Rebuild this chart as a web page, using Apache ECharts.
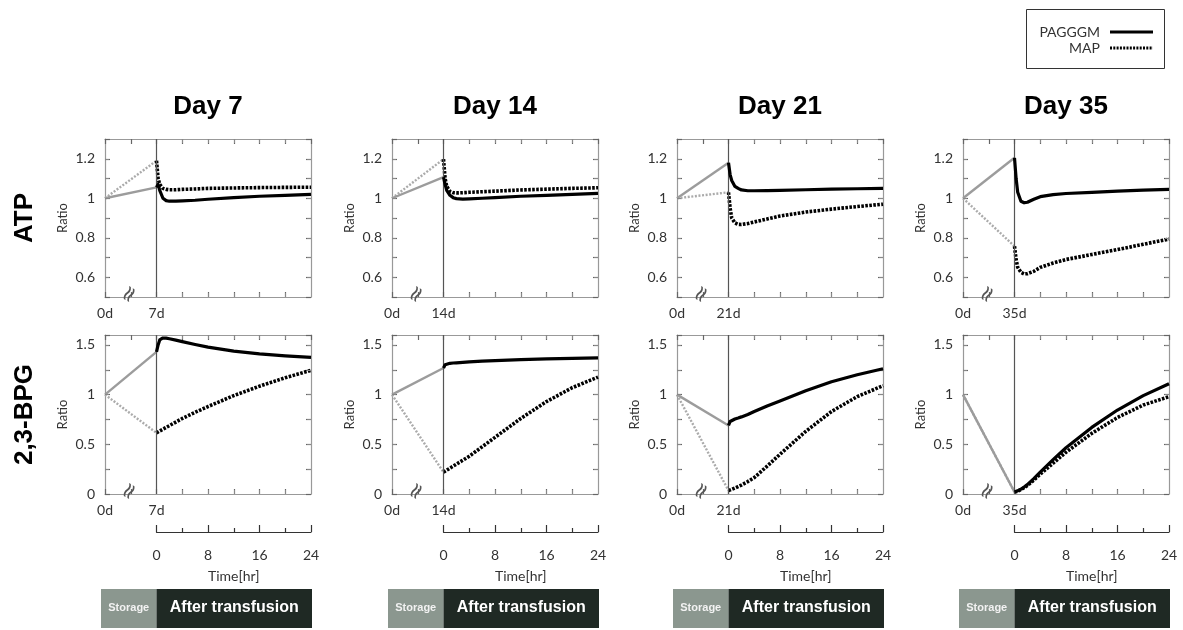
<!DOCTYPE html>
<html>
<head>
<meta charset="utf-8">
<script src="https://cdn.jsdelivr.net/npm/echarts@6/dist/echarts.min.js"></script>
<style>
html,body{margin:0;padding:0;background:#fff;}
#chart{width:1183px;height:630px;}
</style>
</head>
<body>
<div id="chart"></div>
<script>
// ---------------- data ----------------
const days = [7, 14, 21, 35];
const hours = [0, 0.25, 0.5, 1, 1.5, 2, 3, 4, 6, 8, 12, 16, 20, 24];
const storageStart = -8; // storage period drawn on the left of time 0 (0d)

// ATP: value at end of storage (0d value = 1)
const atpStoragePAGGGM = [1.055, 1.107, 1.18, 1.205];
const atpStorageMAP    = [1.19, 1.198, 1.03, 0.757];
// ATP after transfusion (per day, sampled at hours)
const atpPAGGGM_d7  = [1.055, 1.07, 1.04, 1.0, 0.988, 0.985, 0.985, 0.987, 0.99, 0.995, 1.003, 1.01, 1.015, 1.02];
const atpMAP_d7     = [1.19, 1.1, 1.07, 1.05, 1.045, 1.043, 1.043, 1.045, 1.047, 1.05, 1.052, 1.054, 1.055, 1.056];
const atpPAGGGM_d14 = [1.107, 1.07, 1.04, 1.015, 1.003, 0.998, 0.996, 0.997, 1.0, 1.003, 1.01, 1.015, 1.02, 1.025];
const atpMAP_d14    = [1.198, 1.1, 1.06, 1.035, 1.028, 1.027, 1.028, 1.03, 1.033, 1.036, 1.042, 1.046, 1.05, 1.053];
const atpPAGGGM_d21 = [1.18, 1.12, 1.09, 1.06, 1.05, 1.042, 1.038, 1.038, 1.039, 1.04, 1.043, 1.046, 1.048, 1.05];
const atpMAP_d21    = [1.03, 0.95, 0.9, 0.875, 0.868, 0.867, 0.872, 0.88, 0.895, 0.91, 0.93, 0.945, 0.958, 0.97];
const atpPAGGGM_d35 = [1.205, 1.1, 1.03, 0.985, 0.977, 0.98, 0.995, 1.008, 1.018, 1.024, 1.03, 1.036, 1.041, 1.045];
const atpMAP_d35    = [0.757, 0.69, 0.65, 0.625, 0.617, 0.618, 0.63, 0.65, 0.672, 0.69, 0.715, 0.74, 0.767, 0.793];

// 2,3-BPG
const bpgStoragePAGGGM = [1.43, 1.268, 0.69, 0.02];
const bpgStorageMAP    = [0.615, 0.22, 0.035, 0.02];
const bpgPAGGGM_d7  = [1.43, 1.5, 1.55, 1.57, 1.568, 1.562, 1.548, 1.533, 1.505, 1.478, 1.437, 1.41, 1.39, 1.375];
const bpgMAP_d7     = [0.615, 0.625, 0.634, 0.652, 0.67, 0.688, 0.724, 0.76, 0.822, 0.88, 0.99, 1.085, 1.17, 1.245];
const bpgPAGGGM_d14 = [1.268, 1.3, 1.31, 1.315, 1.318, 1.32, 1.325, 1.33, 1.337, 1.343, 1.352, 1.36, 1.365, 1.37];
const bpgMAP_d14    = [0.22, 0.23, 0.24, 0.26, 0.28, 0.3, 0.34, 0.38, 0.475, 0.57, 0.76, 0.93, 1.07, 1.176];
const bpgPAGGGM_d21 = [0.69, 0.73, 0.745, 0.755, 0.765, 0.776, 0.8, 0.83, 0.885, 0.935, 1.04, 1.13, 1.2, 1.26];
const bpgMAP_d21    = [0.035, 0.04, 0.047, 0.06, 0.075, 0.09, 0.125, 0.165, 0.28, 0.4, 0.63, 0.83, 0.98, 1.09];
const bpgPAGGGM_d35 = [0.02, 0.025, 0.032, 0.05, 0.07, 0.095, 0.155, 0.22, 0.345, 0.465, 0.67, 0.845, 0.99, 1.11];
const bpgMAP_d35    = [0.02, 0.022, 0.028, 0.045, 0.063, 0.085, 0.14, 0.2, 0.31, 0.42, 0.61, 0.77, 0.895, 0.98];

const atpAfterPAGGGM = [atpPAGGGM_d7, atpPAGGGM_d14, atpPAGGGM_d21, atpPAGGGM_d35];
const atpAfterMAP    = [atpMAP_d7, atpMAP_d14, atpMAP_d21, atpMAP_d35];
const bpgAfterPAGGGM = [bpgPAGGGM_d7, bpgPAGGGM_d14, bpgPAGGGM_d21, bpgPAGGGM_d35];
const bpgAfterMAP    = [bpgMAP_d7, bpgMAP_d14, bpgMAP_d21, bpgMAP_d35];

// tick values
const atpTickLabels = [0.6, 0.8, 1, 1.2];
const atpTickMarks  = [0.6, 0.7, 0.8, 0.9, 1, 1.1, 1.2];
const bpgTickLabels = [0, 0.5, 1, 1.5];
const bpgTickMarks  = [0.25, 0.5, 0.75, 1, 1.25, 1.5];
const xTickMarks    = [4, 8, 12, 16, 20];
const hrTicks = [0, 8, 16, 24];
const seriesNames = ['PAGGGM', 'MAP'];

// ---------------- layout ----------------
const colLeft = [105, 392, 677, 963];
const W = 206;
const rowTop = [139, 335];
const rowH = [158, 159];
const TICK_PX = 4;
const FONT = 'Lato, "Open Sans", sans-serif';
const BOLD = '"Liberation Sans", Arial, sans-serif';
const frameColor = '#999999';

const grid = [], xAxis = [], yAxis = [], series = [], graphic = [];

function zip(xs, ys){ return xs.map((x,i)=>[x, ys[i]]); }

function frameAxisLine(){ return {show: true, onZero: false, lineStyle: {color: frameColor, width: 1.2}}; }
function frameTick(){ return {show: true, inside: true, length: 5, lineStyle: {color: '#666', width: 1.2}}; }

function addPanel(c, r, yMin, yMax, yInt, tickLabels, tickMarks, storeP, storeM, afterP, afterM){
  const gi = grid.length;
  grid.push({left: colLeft[c], top: rowTop[r], width: W, height: rowH[r], show: false});
  const xb = xAxis.length;
  const day = days[c];
  xAxis.push({
    type: 'value', gridIndex: gi, min: storageStart, max: 24, interval: 4, position: 'bottom',
    axisLine: frameAxisLine(), axisTick: frameTick(), splitLine: {show: false},
    axisLabel: {show: true, fontFamily: FONT, fontSize: 14, color: '#333', margin: 9,
      showMinLabel: true, showMaxLabel: false,
      formatter: v => (Math.abs(v - storageStart) < 1e-6 ? '0d' : (Math.abs(v) < 1e-6 ? day + 'd' : ''))}
  });
  xAxis.push({
    type: 'value', gridIndex: gi, min: storageStart, max: 24, interval: 4, position: 'top',
    axisLine: frameAxisLine(), axisTick: frameTick(), splitLine: {show: false},
    axisLabel: {show: false}
  });
  const yl = yAxis.length;
  const labelSet = tickLabels.map(v => Math.round(v * 100));
  yAxis.push({
    type: 'value', gridIndex: gi, min: yMin, max: yMax, interval: yInt, position: 'left',
    name: 'Ratio', nameLocation: 'middle', nameGap: 36, nameRotate: 90,
    nameTextStyle: {fontFamily: FONT, fontSize: 13, color: '#333'},
    axisLine: frameAxisLine(), axisTick: frameTick(), splitLine: {show: false},
    axisLabel: {fontFamily: FONT, fontSize: 14, color: '#333', margin: 10,
      formatter: v => labelSet.indexOf(Math.round(v * 100)) >= 0 ? String(+(+v).toFixed(2)) : ''}
  });
  yAxis.push({
    type: 'value', gridIndex: gi, min: yMin, max: yMax, interval: yInt, position: 'right',
    axisLine: frameAxisLine(), axisTick: frameTick(), splitLine: {show: false},
    axisLabel: {show: false}
  });
  // inward tick marks on the frame, placed through the axis scales
  const dy = (yMax - yMin) * TICK_PX / rowH[r];
  const dx = (24 - storageStart) * TICK_PX / W;
  const tickSegs = [];
  xTickMarks.forEach(x => {
    tickSegs.push([{coord: [x, yMin]}, {coord: [x, yMin + dy]}]);
    tickSegs.push([{coord: [x, yMax]}, {coord: [x, yMax - dy]}]);
  });
  tickMarks.forEach(y => {
    tickSegs.push([{coord: [storageStart, y]}, {coord: [storageStart + dx, y]}]);
    tickSegs.push([{coord: [24, y]}, {coord: [24 - dx, y]}]);
  });
  // storage lines (gray) on bottom/left axes
  series.push({
    name: seriesNames[0], type: 'line', xAxisIndex: xb, yAxisIndex: yl, symbol: 'none', silent: true,
    data: [[storageStart, 1], [0, storeP]], z: 3,
    lineStyle: {color: '#9c9c9c', width: 2.4},
    markLine: {silent: true, symbol: 'none', label: {show: false}, animation: false,
      lineStyle: {color: '#555', width: 1.2, type: 'solid'}, data: [{xAxis: 0}]}
  });
  series.push({
    name: seriesNames[1], type: 'line', xAxisIndex: xb, yAxisIndex: yl, symbol: 'none', silent: true,
    data: [[storageStart, 1], [0, storeM]], z: 2,
    lineStyle: {color: '#ababab', width: 2.4, type: [2, 1.6]},
    markLine: {silent: true, symbol: 'none', label: {show: false}, animation: false,
      lineStyle: {color: '#888', width: 1, type: 'solid'}, data: tickSegs},
    markPoint: {silent: true, symbol: 'rect', symbolSize: 1, itemStyle: {color: 'rgba(0,0,0,0)'},
      label: {show: true, position: 'inside', formatter: '\u2248', fontSize: 22, color: '#555', rotate: 60,
        fontFamily: 'DejaVu Sans'},
      data: [{coord: [-4.1, yMin + (yMax - yMin) * 0.015]}]}
  });
  // after transfusion (black) on top/right axes (same scales)
  series.push({
    name: seriesNames[0], type: 'line', xAxisIndex: xb + 1, yAxisIndex: yl + 1, symbol: 'none', silent: true,
    data: zip(hours, afterP), smooth: false, z: 5,
    lineStyle: {color: '#000', width: 3.2, join: 'round'}
  });
  series.push({
    name: seriesNames[1], type: 'line', xAxisIndex: xb + 1, yAxisIndex: yl + 1, symbol: 'none', silent: true,
    data: zip(hours, afterM), smooth: false, z: 4,
    lineStyle: {color: '#000', width: 3.6, type: [2.6, 1.4], cap: 'butt', join: 'round'}
  });
}

for (let c = 0; c < 4; c++) {
  addPanel(c, 0, 0.5, 1.3, 0.1, atpTickLabels, atpTickMarks, atpStoragePAGGGM[c], atpStorageMAP[c], atpAfterPAGGGM[c], atpAfterMAP[c]);
  addPanel(c, 1, 0, 1.6, 0.25, bpgTickLabels, bpgTickMarks, bpgStoragePAGGGM[c], bpgStorageMAP[c], bpgAfterPAGGGM[c], bpgAfterMAP[c]);
  // hour axis
  const gi = grid.length;
  const vx = colLeft[c] + W * (-storageStart) / (24 - storageStart);
  grid.push({left: vx, top: 500, width: colLeft[c] + W - vx, height: 32, show: false});
  xAxis.push({
    type: 'value', gridIndex: gi, min: 0, max: 24, interval: 8, position: 'bottom',
    axisLine: {show: true, onZero: false, lineStyle: {color: '#333', width: 1.2}},
    axisTick: {show: true, inside: true, length: 7, lineStyle: {color: '#333', width: 1.2}},
    minorTick: {show: true, splitNumber: 2, length: 4, lineStyle: {color: '#333', width: 1.2}},
    splitLine: {show: false},
    axisLabel: {fontFamily: FONT, fontSize: 14, color: '#333', margin: 16, showMaxLabel: true, showMinLabel: true,
      formatter: v => hrTicks.indexOf(v) >= 0 ? String(v) : ''},
    name: 'Time[hr]', nameLocation: 'middle', nameGap: 37,
    nameTextStyle: {fontFamily: FONT, fontSize: 14, color: '#333'}
  });
  yAxis.push({type: 'value', gridIndex: gi, min: 0, max: 1, show: false});

  // column title
  graphic.push({type: 'text', x: colLeft[c] + W / 2, y: 107,
    style: {text: 'Day ' + days[c], fontFamily: BOLD, fontWeight: 'bold',
      fontSize: 26, fill: '#000', align: 'center', verticalAlign: 'middle'}});
  // storage / after transfusion bars
  const bx0 = colLeft[c] - 4, bx2 = colLeft[c] + W + 1;
  graphic.push({type: 'rect', shape: {x: bx0, y: 589, width: vx - bx0, height: 39}, style: {fill: '#8b978f'}});
  graphic.push({type: 'rect', shape: {x: vx, y: 589, width: bx2 - vx, height: 39}, style: {fill: '#1f2924'}});
  graphic.push({type: 'text', x: (bx0 + vx) / 2, y: 608,
    style: {text: 'Storage', fontFamily: BOLD, fontWeight: 'bold', fontSize: 11,
      fill: '#f2f2f2', align: 'center', verticalAlign: 'middle'}});
  graphic.push({type: 'text', x: (vx + bx2) / 2, y: 608,
    style: {text: 'After transfusion', fontFamily: BOLD, fontWeight: 'bold', fontSize: 16,
      fill: '#ffffff', align: 'center', verticalAlign: 'middle'}});
}

// row labels
graphic.push({type: 'text', x: 25, y: rowTop[0] + rowH[0] / 2, rotation: Math.PI / 2,
  style: {text: 'ATP', fontFamily: BOLD, fontWeight: 'bold', fontSize: 26,
    fill: '#000', align: 'center', verticalAlign: 'middle'}});
graphic.push({type: 'text', x: 25, y: rowTop[1] + rowH[1] / 2, rotation: Math.PI / 2,
  style: {text: '2,3-BPG', fontFamily: BOLD, fontWeight: 'bold', fontSize: 26,
    fill: '#000', align: 'center', verticalAlign: 'middle'}});

// legend box
graphic.push({type: 'rect', shape: {x: 1026.5, y: 9.5, width: 138, height: 59}, style: {fill: '#fff', stroke: '#333', lineWidth: 1}});
graphic.push({type: 'text', x: 1100, y: 32, style: {text: seriesNames[0], fontFamily: FONT, fontSize: 14, fill: '#333', align: 'right', verticalAlign: 'middle'}});
graphic.push({type: 'text', x: 1100, y: 48, style: {text: seriesNames[1], fontFamily: FONT, fontSize: 14, fill: '#333', align: 'right', verticalAlign: 'middle'}});
graphic.push({type: 'line', shape: {x1: 1110, y1: 32, x2: 1153, y2: 32}, style: {stroke: '#000', lineWidth: 3}});
graphic.push({type: 'line', shape: {x1: 1110, y1: 48, x2: 1153, y2: 48}, style: {stroke: '#000', lineWidth: 3, lineDash: [2, 1.3]}});

const chart = echarts.init(document.getElementById('chart'), null, {renderer: 'canvas'});
chart.setOption({
  animation: false,
  backgroundColor: '#fff',
  grid, xAxis, yAxis, series, graphic
});
</script>
</body>
</html>
